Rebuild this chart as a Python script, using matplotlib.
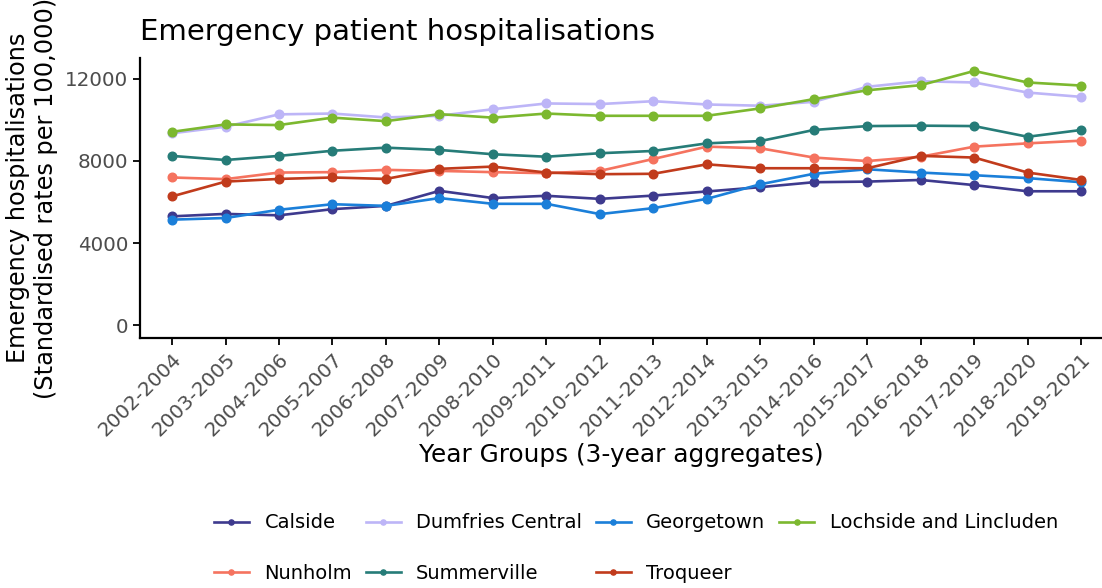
import matplotlib
matplotlib.use("Agg")
import matplotlib.pyplot as plt

years = ["2002-2004", "2003-2005", "2004-2006", "2005-2007", "2006-2008",
         "2007-2009", "2008-2010", "2009-2011", "2010-2012", "2011-2013",
         "2012-2014", "2013-2015", "2014-2016", "2015-2017", "2016-2018",
         "2017-2019", "2018-2020", "2019-2021"]

calside = [5300, 5420, 5350, 5650, 5810, 6540, 6190, 6300, 6150, 6310,
           6510, 6720, 6960, 6990, 7070, 6820, 6520, 6520]
dumfries_central = [9340, 9660, 10260, 10300, 10110, 10190, 10510, 10790, 10760, 10900,
                    10740, 10680, 10870, 11600, 11870, 11810, 11320, 11110]
georgetown = [5140, 5220, 5620, 5890, 5810, 6190, 5910, 5910, 5410, 5700,
              6150, 6860, 7370, 7590, 7430, 7300, 7160, 6960]
lochside = [9410, 9770, 9740, 10100, 9930, 10270, 10100, 10300, 10190, 10190,
            10190, 10550, 11000, 11430, 11680, 12370, 11810, 11660]
nunholm = [7190, 7110, 7430, 7450, 7560, 7510, 7450, 7400, 7510, 8090,
           8690, 8610, 8160, 7990, 8200, 8690, 8850, 8980]
summerville = [8240, 8040, 8240, 8490, 8640, 8530, 8320, 8200, 8370, 8480,
               8850, 8960, 9500, 9690, 9710, 9690, 9170, 9500]
troqueer = [6270, 6990, 7120, 7190, 7120, 7610, 7720, 7430, 7350, 7370,
            7830, 7640, 7640, 7640, 8240, 8160, 7430, 7070]

series = [
    ("Calside", calside, "#3E3A8E"),
    ("Dumfries Central", dumfries_central, "#BDB5F7"),
    ("Georgetown", georgetown, "#1B7FD9"),
    ("Lochside and Lincluden", lochside, "#7CB82F"),
    ("Nunholm", nunholm, "#F5735F"),
    ("Summerville", summerville, "#267C78"),
    ("Troqueer", troqueer, "#C13B1C"),
]

fig = plt.figure(figsize=(11.02, 5.88), dpi=100)
ax = fig.add_axes([0.127, 0.425, 0.873, 0.476])

x = list(range(len(years)))
handles = {}
for name, vals, col in series:
    h, = ax.plot(x, vals, color=col, lw=1.9, marker="o", ms=6.2, label=name)
    handles[name] = h

ax.set_xlim(-0.6, 17.39)
ax.set_ylim(-620, 12990)
ax.set_yticks([0, 4000, 8000, 12000])
ax.set_xticks(x)
ax.set_xticklabels(years, rotation=45, ha="right", rotation_mode="anchor")
ax.tick_params(axis="both", labelsize=14.3, labelcolor="#4D4D4D", length=5, width=1.3)
for s in ["top", "right"]:
    ax.spines[s].set_visible(False)
for s in ["left", "bottom"]:
    ax.spines[s].set_linewidth(1.6)

ax.set_xlabel("Year Groups (3-year aggregates)", fontsize=17.8, labelpad=2)
# the reference clips this label at the top edge too
ax.set_ylabel("Emergency hospitalisations\n(Standardised rates per 100,000)",
              fontsize=17.3, labelpad=5)
ax.set_title("Emergency patient hospitalisations", fontsize=21, loc="left", pad=13)

# matplotlib fills legend column-wise, so reorder to get ggplot's row-wise layout
order = ["Calside", "Nunholm", "Dumfries Central", "Summerville",
         "Georgetown", "Troqueer", "Lochside and Lincluden"]
fig.legend([handles[n] for n in order], order, ncol=4, frameon=False,
           loc="center", bbox_to_anchor=(0.577, 0.068), fontsize=14,
           handlelength=1.8, handletextpad=0.8, labelspacing=1.6,
           columnspacing=0.7, markerscale=0.6)

fig.savefig("out.png", dpi=100)
